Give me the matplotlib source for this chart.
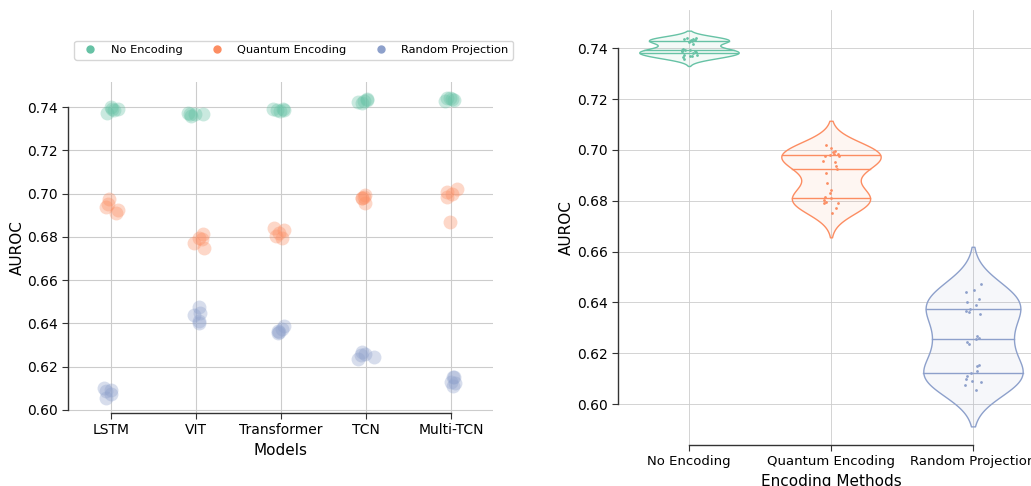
import matplotlib
matplotlib.use("Agg")
import matplotlib.pyplot as plt
from matplotlib.lines import Line2D
from matplotlib.collections import PolyCollection
import numpy as np
import pandas as pd
import seaborn as sns

# data: AUROC per model (5 runs each)
models = ['LSTM', 'VIT', 'Transformer', 'TCN', 'Multi-TCN']
methods = ['No Encoding', 'Quantum Encoding', 'Random Projection']
colors = ['#66c2a5', '#fc8d62', '#8da0cb']

no_encoding = [
    [0.7390, 0.7388, 0.7374, 0.7398, 0.7392],
    [0.7366, 0.7370, 0.7359, 0.7372, 0.7368],
    [0.7393, 0.7381, 0.7393, 0.7384, 0.7388],
    [0.7436, 0.7424, 0.7432, 0.7417, 0.7428],
    [0.7440, 0.7432, 0.7441, 0.7428, 0.7436],
]
quantum_encoding = [
    [0.6911, 0.6951, 0.6936, 0.6975, 0.6926],
    [0.6750, 0.6793, 0.6812, 0.6790, 0.6772],
    [0.6842, 0.6831, 0.6794, 0.6816, 0.6802],
    [0.6985, 0.6993, 0.6978, 0.6980, 0.6955],
    [0.7021, 0.6996, 0.6985, 0.7008, 0.6870],
]
random_projection = [
    [0.6057, 0.6088, 0.6092, 0.6100, 0.6073],
    [0.6439, 0.6474, 0.6449, 0.6412, 0.6400],
    [0.6362, 0.6388, 0.6354, 0.6374, 0.6367],
    [0.6259, 0.6236, 0.6267, 0.6243, 0.6254],
    [0.6154, 0.6151, 0.6123, 0.6131, 0.6111],
]

rows = []
for meth, vals in zip(methods, [no_encoding, quantum_encoding, random_projection]):
    for mod, runs in zip(models, vals):
        for v in runs:
            rows.append({'Model': mod, 'Encoding': meth, 'AUROC': v})
df = pd.DataFrame(rows)

np.random.seed(3)
fig = plt.figure(figsize=(10.31, 4.86), dpi=100, facecolor='white')
ax1 = fig.add_axes([0.0664, 0.1502, 0.4122, 0.6817])
ax2 = fig.add_axes([0.5994, 0.085, 0.4132, 0.894])

grid_c = '#cccccc'
spine_c = '#333333'

# ---- left: strip plot per model ----
for meth, c in zip(methods, colors):
    sub = df[df['Encoding'] == meth]
    sns.stripplot(data=sub, x='Model', y='AUROC', order=models, color=c,
                  size=10, alpha=0.35, jitter=0.1, linewidth=0, ax=ax1, zorder=3)

ax1.set_xlim(-0.5, 4.5)
ax1.set_ylim(0.5986, 0.7517)
ax1.set_yticks(np.arange(0.60, 0.741, 0.02))
ax1.grid(True, color=grid_c, lw=0.8)
ax1.set_axisbelow(True)
ax1.set_xlabel('Models', fontsize=11)
ax1.set_ylabel('AUROC', fontsize=11, labelpad=2)

handles = [Line2D([], [], marker='o', ls='', color=c, markersize=5) for c in colors]
fig.legend(handles, methods, loc='center', bbox_to_anchor=(0.2847, 0.897),
           ncol=3, fontsize=8.2, frameon=True)

# ---- right: violin per encoding ----
for meth, c in zip(methods, colors):
    sub = df[df['Encoding'] == meth]
    n_coll = len(ax2.collections)
    n_lines = len(ax2.lines)
    sns.violinplot(data=sub, x='Encoding', y='AUROC', order=methods, color=c,
                   inner='quart', width=0.7, linewidth=1, ax=ax2)
    for coll in ax2.collections[n_coll:]:
        if isinstance(coll, PolyCollection):
            coll.set_facecolor(matplotlib.colors.to_rgba(c, 0.08))
            coll.set_edgecolor(c)
            coll.set_linewidth(1)
    for ln in ax2.lines[n_lines:]:
        ln.set_color(c)
        ln.set_linestyle('-')
        ln.set_linewidth(1)
    sns.stripplot(data=sub, x='Encoding', y='AUROC', order=methods, color=c,
                  size=2, jitter=0.06, linewidth=0, ax=ax2, zorder=4)

ax2.set_xlim(-0.5, 2.5)
ax2.set_ylim(0.584, 0.755)
ax2.set_yticks(np.arange(0.60, 0.741, 0.02))
ax2.grid(True, color=grid_c, lw=0.6)
ax2.set_axisbelow(True)
ax2.set_xlabel('Encoding Methods', fontsize=11)
ax2.set_ylabel('AUROC', fontsize=11, labelpad=2)
ax2.tick_params(axis='x', labelsize=9.5)

for ax, nx in [(ax1, 4), (ax2, 2)]:
    ax.spines['top'].set_visible(False)
    ax.spines['right'].set_visible(False)
    ax.spines['left'].set_bounds(0.60, 0.74)
    ax.spines['bottom'].set_bounds(0, nx)
    for s in ['left', 'bottom']:
        ax.spines[s].set_color(spine_c)
        ax.spines[s].set_linewidth(1)
    ax.tick_params(direction='out', length=4, color=spine_c)
    ax.tick_params(axis='y', labelsize=10)
ax1.tick_params(axis='x', labelsize=10)

plt.savefig('out.png', dpi=100)
